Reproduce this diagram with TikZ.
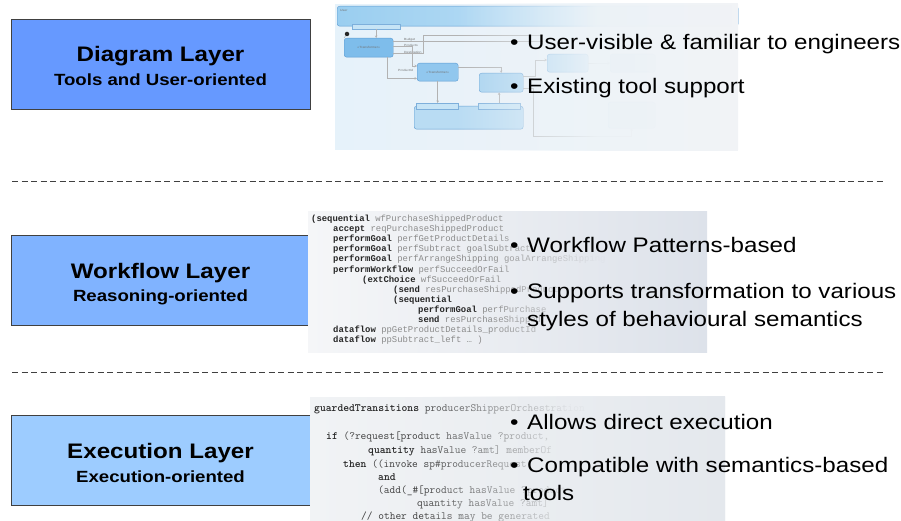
\documentclass[tikz,border=0pt]{standalone}
\usepackage{fontspec}
\setmainfont{Liberation Sans}[FakeStretch=1.15]
\newfontfamily\wfcode{Liberation Mono}
\usetikzlibrary{arrows.meta,fadings}

\definecolor{diagblue}{HTML}{6699FF}
\definecolor{flowblue}{HTML}{80B3FF}
\definecolor{execblue}{HTML}{9DCCFF}
\definecolor{shotleft}{HTML}{E6F2FA}
\definecolor{shotright}{HTML}{F1F3F6}
\definecolor{flowleft}{HTML}{F5F6F8}
\definecolor{flowright}{HTML}{DDE2EA}
\definecolor{execleft}{HTML}{F1F3F5}
\definecolor{execright}{HTML}{E4E8ED}
\definecolor{uiedge}{HTML}{5C9BD2}
\definecolor{uibar}{HTML}{9ACEF0}
\definecolor{uifill}{HTML}{7EBDEB}
\definecolor{uilight}{HTML}{A8D3F0}
\definecolor{uistripc}{HTML}{C6E4F6}

\tikzfading[name=fadein, left color=transparent!100, right color=transparent!0, middle color=transparent!4]

\newcommand\codekw[1]{\textcolor{black!85}{\bfseries #1}}

\begin{document}
\begin{tikzpicture}[x=1pt,y=-1pt,
    layerbox/.style={draw=black!75, line width=1pt, minimum width=299pt, minimum height=90pt, inner sep=0pt},
    layertitle/.style={anchor=base, inner sep=0pt, font=\fontsize{21}{24}\selectfont\bfseries},
    layersub/.style={anchor=base, inner sep=0pt, font=\fontsize{16.2}{19}\selectfont\bfseries},
    bulletmark/.style={anchor=base west, inner sep=0pt, font=\fontsize{21}{24}\selectfont},
    pointtext/.style={anchor=base west, inner sep=0pt, font=\fontsize{21}{24}\selectfont},
    sepline/.style={draw=black!75, line width=1pt, dash pattern=on 6pt off 3.5pt},
    uibox/.style={draw=uiedge, rounded corners=2.5pt, inner sep=0.5pt, line width=0.4pt, anchor=north west,
      font=\fontsize{3}{3.5}\selectfont, text=black!55, align=center},
    uistrip/.style={draw=uiedge!80, fill=uistripc, inner sep=0pt, line width=0.3pt, anchor=north west},
    uilabel/.style={font=\fontsize{3}{3.5}\selectfont, text=black!55, inner sep=0pt, anchor=base west},
    uiline/.style={draw=black!30, line width=0.5pt},
    uiarrow/.style={uiline, -{Stealth[length=2.5pt,width=2.5pt]}},
    wfline/.style={anchor=base west, inner sep=0pt, font=\wfcode\fontsize{8.9}{9}\selectfont, text=black!45},
    exline/.style={anchor=base west, inner sep=0pt, font=\ttfamily\fontsize{11.1}{12}\selectfont, text=black!75},
  ]
  \useasboundingbox (0,0) rectangle (901,521);

  % layer boxes
  \node[layerbox, fill=diagblue] (diagram) at (160.5,65) {};
  \node[layertitle] (diagramtitle) at (160.5,62) {Diagram Layer};
  \node[layersub] (diagramsub) at (160.5,86) {Tools and User-oriented};

  \node[layerbox, fill=flowblue] (workflow) at (160.5,280.5) {};
  \node[layertitle] (workflowtitle) at (160.5,278) {Workflow Layer};
  \node[layersub] (workflowsub) at (160.5,301) {Reasoning-oriented};

  \node[layerbox, fill=execblue] (execution) at (160.5,460) {};
  \node[layertitle] (executiontitle) at (160.5,458) {Execution Layer};
  \node[layersub] (executionsub) at (160.5,482) {Execution-oriented};

  % separators
  \coordinate (sep1w) at (12,182);
  \coordinate (sep1e) at (885,182);
  \coordinate (sep2w) at (12,372);
  \coordinate (sep2e) at (885,372);
  \draw[sepline] (sep1w) -- (sep1e);
  \draw[sepline] (sep2w) -- (sep2e);

  % diagram screenshot
  \shade[left color=shotleft, right color=shotright] (335,5) rectangle (738,150);
  \node[uibox, left color=uibar, right color=uibar!40!white, minimum width=401pt, minimum height=20pt] (userbar) at (337,6) {};
  \node[uilabel] (userlabel) at (340,12) {User};
  \node[uistrip, minimum width=48pt, minimum height=5pt] (reqstrip) at (352,24) {};
  \node[circle, fill=black!85, inner sep=0pt, minimum size=4.5pt] (start) at (347,34) {};
  \node[uibox, fill=uifill, minimum width=49pt, minimum height=19pt] (trans1) at (344,38) {«Transformer»};
  \node[uibox, fill=uifill!85!white, minimum width=41pt, minimum height=18pt] (trans2) at (417,63) {«Transformer»};
  \node[uibox, fill=uilight, minimum width=44pt, minimum height=19pt] (expand) at (479,73) {};
  \node[uibox, fill=uilight!80!white, minimum width=109pt, minimum height=23pt] (subdetails) at (414,106) {};
  \node[uistrip, minimum width=42pt, minimum height=6pt] (getstrip) at (416,103) {};
  \node[uistrip, minimum width=42pt, minimum height=6pt] (retstrip) at (478,103) {};
  \node[uibox, fill=uilight, minimum width=41pt, minimum height=18pt] (choiceA) at (547,54) {};
  \node[uibox, fill=uilight, minimum width=45pt, minimum height=18pt] (choiceB) at (610,54) {};
  \node[uibox, fill=uilight!70!white, minimum width=47pt, minimum height=26pt] (choiceC) at (608,102) {};
  \node[uilabel] (budget) at (404,41) {Budget};
  \node[uilabel] (products) at (404,47) {Products};
  \node[uilabel] (destination) at (404,54) {Destination};
  \node[uilabel] (productid) at (398,72) {ProductId};

  \draw[uiarrow] (reqstrip.south) -- (reqstrip.south |- trans1.north);
  \draw[uiline] (start) -- (trans1.north west);
  \draw[uiline] ([yshift=-3pt]trans1.north east) -- ++(150,0);
  \draw[uiarrow] ([yshift=-8pt]trans1.north east) -- ++(19,0) |- ([yshift=-3pt]trans2.north west);
  \draw[uiline] ([yshift=-15pt]trans1.north east) -- ++(30,0) -- ++(0,-18) -- ++(120,0);
  \draw[uiarrow] ([xshift=-6pt]trans1.south east) |- ([yshift=3pt]trans2.south west);
  \draw[uiarrow] ([yshift=-4pt]trans2.north east) -| (expand.north);
  \draw[uiarrow] (trans2.south) -- (trans2.south |- getstrip.north);
  \draw[uiarrow] (retstrip.north) -- (retstrip.north |- expand.south);
  \draw[uiarrow] ([yshift=-3pt]expand.north east) -- ++(12,0) |- ([yshift=-6pt]choiceA.north west);
  \draw[uiarrow] (choiceA.east) -- (choiceB.west);
  \draw[uiarrow] ([yshift=4pt]expand.south east) -- ++(10,0) |- ([yshift=-8pt]choiceC.south) -- (choiceC.south);

  \shade[left color=shotright!30!shotleft, right color=shotright, path fading=fadein] (456,4) rectangle (738,151);

  % workflow code
  \shade[left color=flowleft, right color=flowright] (308,212) rectangle (707,352);
  \node[wfline] (wf0) at (311,221.5) {\codekw{(sequential} wfPurchaseShippedProduct};
  \node[wfline] (wf1) at (333,231.6) {\codekw{accept} reqPurchaseShippedProduct};
  \node[wfline] (wf2) at (333,241.7) {\codekw{performGoal} perfGetProductDetails};
  \node[wfline] (wf3) at (333,251.8) {\codekw{performGoal} perfSubtract goalSubtract};
  \node[wfline] (wf4) at (333,261.9) {\codekw{performGoal} perfArrangeShipping goalArrangeShipping};
  \node[wfline] (wf5) at (333,272.0) {\codekw{performWorkflow} perfSucceedOrFail};
  \node[wfline] (wf6) at (362,282.1) {\codekw{(extChoice} wfSucceedOrFail};
  \node[wfline] (wf7) at (393,292.2) {\codekw{(send} resPurchaseShippedProduct};
  \node[wfline] (wf8) at (393,302.3) {\codekw{(sequential}};
  \node[wfline] (wf9) at (418,312.4) {\codekw{performGoal} perfPurchase};
  \node[wfline] (wf10) at (418,322.5) {\codekw{send} resPurchaseShipped};
  \node[wfline] (wf11) at (333,332.6) {\codekw{dataflow} ppGetProductDetails\_productId};
  \node[wfline] (wf12) at (333,342.7) {\codekw{dataflow} ppSubtract\_left \dots\ )};
  \shade[left color=flowright!45!flowleft, right color=flowright, path fading=fadein] (488,212) rectangle (707,352);

  % execution code
  \shade[left color=execleft, right color=execright] (310,397) rectangle (725,521);
  \node[exline] (ex0) at (314,411) {\codekw{guardedTransitions} producerShipperOrchestration};
  \node[exline] (ex1) at (326,439) {\codekw{if} (?request[product hasValue ?product,};
  \node[exline] (ex2) at (368,453) {\codekw{quantity} hasValue ?amt] memberOf};
  \node[exline] (ex3) at (343,467) {\codekw{then} ((invoke sp\#producerRequest};
  \node[exline] (ex4) at (378,480.5) {\codekw{and}};
  \node[exline] (ex5) at (378,493.5) {(add(\_\#[product hasValue ?product,};
  \node[exline] (ex6) at (417,506) {quantity hasValue ?amt]};
  \node[exline] (ex7) at (361,519) {// other details may be generated};
  \shade[left color=execright!26!execleft, right color=execright, path fading=fadein] (418,397) rectangle (725,521);

  % bullet points
  \node[bulletmark] (mark1) at (510,50) {•};
  \node[pointtext] (point1) at (527,50) {User-visible \& familiar to engineers};
  \node[bulletmark] (mark2) at (510,94) {•};
  \node[pointtext] (point2) at (527,94) {Existing tool support};

  \node[bulletmark] (mark3) at (510,252) {•};
  \node[pointtext] (point3) at (527,252) {Workflow Patterns-based};
  \node[bulletmark] (mark4) at (510,298) {•};
  \node[pointtext] (point4) at (527,298) {Supports transformation to various};
  \node[pointtext] (point4b) at (527,326) {styles of behavioural semantics};

  \node[bulletmark] (mark5) at (510,429) {•};
  \node[pointtext] (point5) at (527,429) {Allows direct execution};
  \node[bulletmark] (mark6) at (510,472) {•};
  \node[pointtext] (point6) at (527,472) {Compatible with semantics-based};
  \node[pointtext] (point6b) at (523,500) {tools};
\end{tikzpicture}
\end{document}
